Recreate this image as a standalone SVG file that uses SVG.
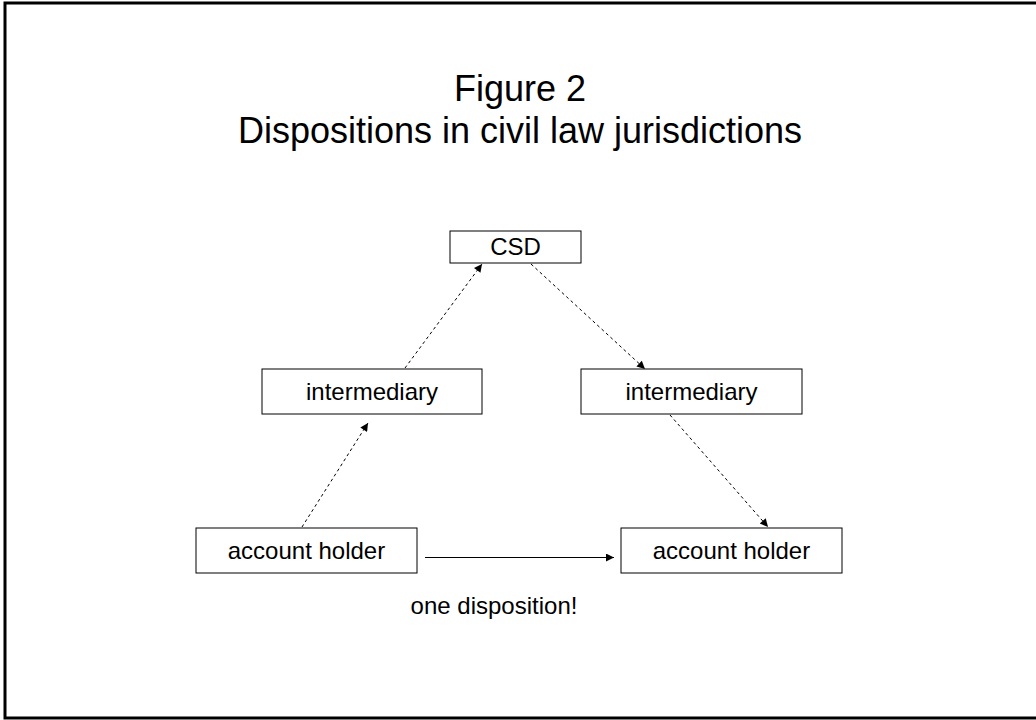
<svg xmlns="http://www.w3.org/2000/svg" width="1036" height="720" viewBox="0 0 1036 720">
  <style>
    .frame { fill: #ffffff; stroke: #000000; stroke-width: 3; }
    .box { fill: #ffffff; stroke: #000000; stroke-width: 1; }
    .label { font-family: "Liberation Sans", Arial, sans-serif; font-size: 24px; fill: #000000; text-anchor: middle; }
    .title { font-family: "Liberation Sans", Arial, sans-serif; font-size: 36px; fill: #000000; text-anchor: middle; }
    .dotted { stroke: #000000; stroke-width: 1; stroke-dasharray: 3 3; fill: none; marker-end: url(#head); }
    .solid { stroke: #000000; stroke-width: 1.2; fill: none; marker-end: url(#head); }
  </style>
  <defs>
    <marker id="head" viewBox="0 0 10 10" refX="10" refY="5" markerWidth="10" markerHeight="8" markerUnits="userSpaceOnUse" orient="auto">
      <path d="M0,0 L10,5 L0,10 z" fill="#000000"/>
    </marker>
  </defs>

  <!-- page frame -->
  <rect class="frame" x="5" y="3" width="1040" height="715"/>

  <!-- heading -->
  <g id="title">
    <text class="title" x="520" y="101">Figure 2</text>
    <text class="title" x="520" y="143">Dispositions in civil law jurisdictions</text>
  </g>

  <g id="csd">
    <rect class="box" x="450" y="231" width="131" height="32"/>
    <text class="label" x="515.5" y="255">CSD</text>
  </g>

  <g id="intermediary-left">
    <rect class="box" x="262" y="369" width="220" height="45"/>
    <text class="label" x="372" y="400">intermediary</text>
  </g>

  <g id="intermediary-right">
    <rect class="box" x="581" y="369" width="221" height="45"/>
    <text class="label" x="691.5" y="400">intermediary</text>
  </g>

  <g id="holder-left">
    <rect class="box" x="196" y="528" width="221" height="45"/>
    <text class="label" x="306.5" y="559">account holder</text>
  </g>

  <g id="holder-right">
    <rect class="box" x="621" y="528" width="221" height="45"/>
    <text class="label" x="731.5" y="559">account holder</text>
  </g>

  <g id="note">
    <text class="label" x="494" y="614">one disposition!</text>
  </g>

  <!-- connectors -->
  <g id="connectors">
    <line class="dotted" x1="302" y1="527" x2="368" y2="423"/>
    <line class="dotted" x1="405" y1="368" x2="482" y2="264"/>
    <line class="dotted" x1="531" y1="264" x2="645" y2="369"/>
    <line class="dotted" x1="670" y1="415" x2="768" y2="527"/>
    <line class="solid" x1="425" y1="557.5" x2="614" y2="557.5"/>
  </g>
</svg>
